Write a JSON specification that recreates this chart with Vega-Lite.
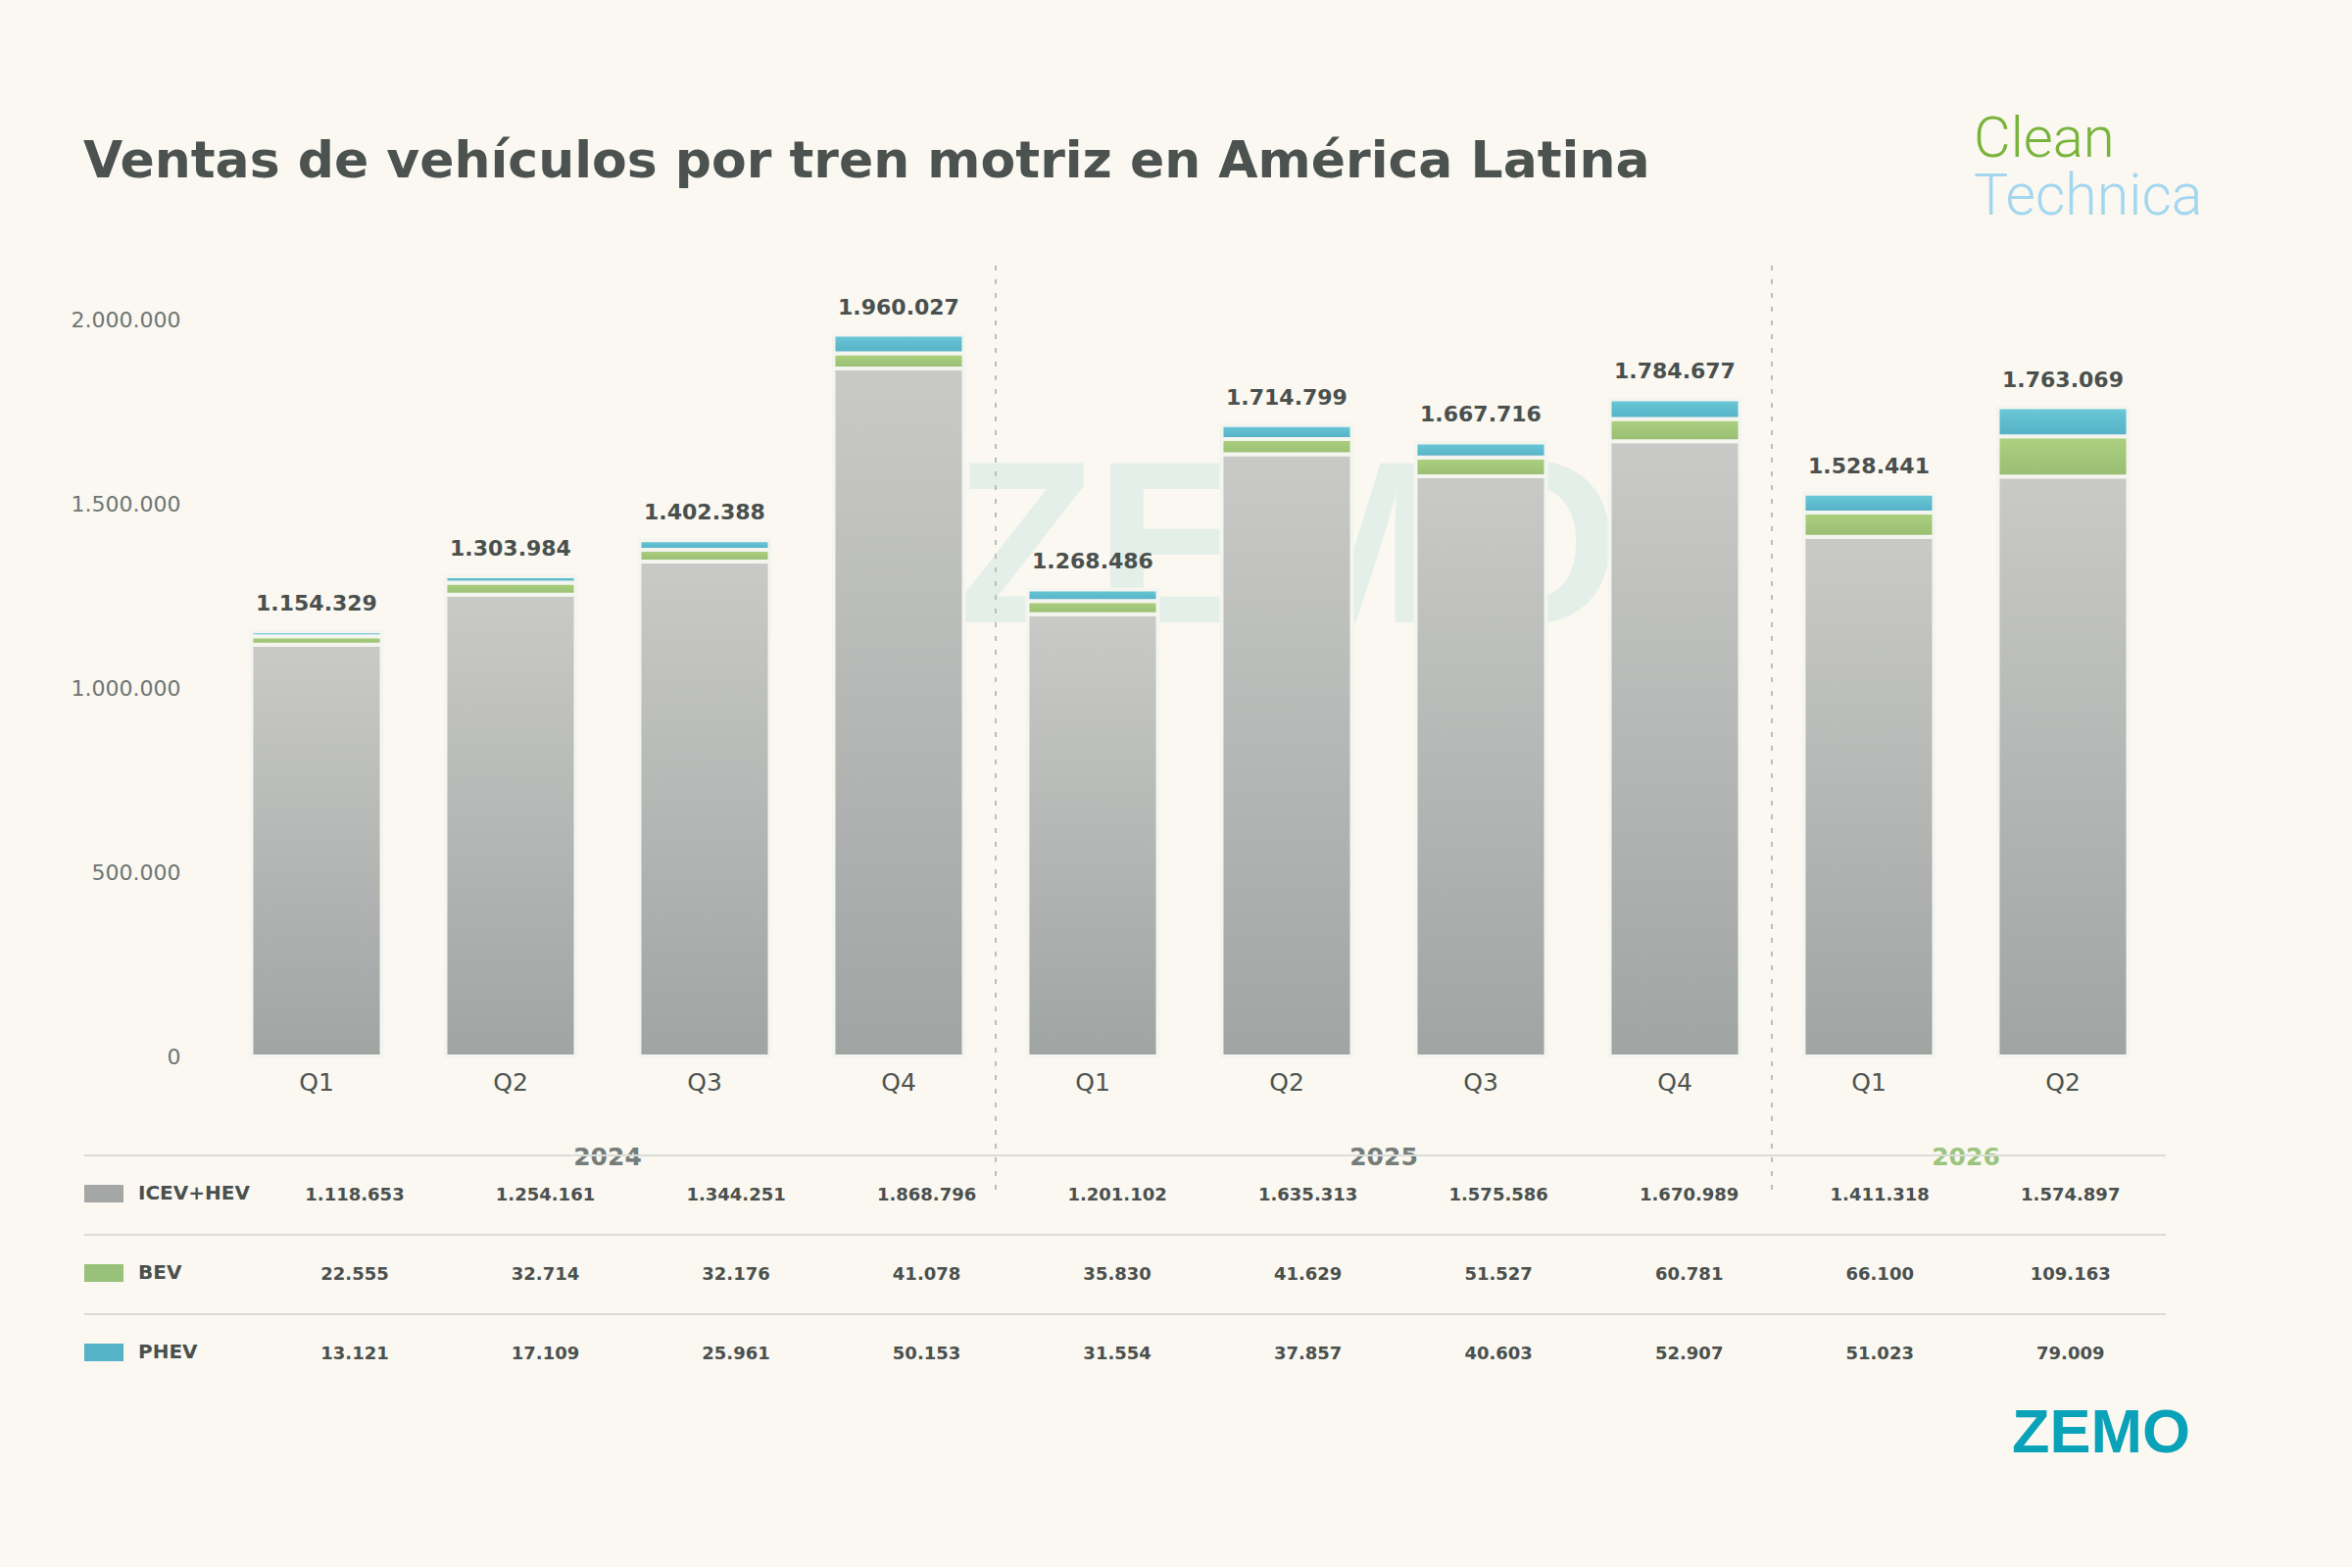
{
  "$schema": "https://vega.github.io/schema/vega-lite/v6.json",
  "background": "#faf8f1",
  "padding": {"left": 72, "top": 114, "right": 165, "bottom": 104},
  "title": {
    "text": "Clean",
    "subtitle": "Technica",
    "anchor": "start",
    "frame": "bounds",
    "dx": 1942,
    "offset": -92,
    "font": "Roboto",
    "fontSize": 58,
    "fontWeight": 300,
    "color": "#79b33a",
    "subtitleFont": "Roboto",
    "subtitleFontSize": 59,
    "subtitleFontWeight": 300,
    "subtitleColor": "#a3d6ef",
    "subtitlePadding": 0
  },
  "datasets": {
    "sales": [
      {"period": "2024-Q1", "type": "ICEV+HEV", "value": 1118653},
      {"period": "2024-Q1", "type": "BEV", "value": 22555},
      {"period": "2024-Q1", "type": "PHEV", "value": 13121},
      {"period": "2024-Q2", "type": "ICEV+HEV", "value": 1254161},
      {"period": "2024-Q2", "type": "BEV", "value": 32714},
      {"period": "2024-Q2", "type": "PHEV", "value": 17109},
      {"period": "2024-Q3", "type": "ICEV+HEV", "value": 1344251},
      {"period": "2024-Q3", "type": "BEV", "value": 32176},
      {"period": "2024-Q3", "type": "PHEV", "value": 25961},
      {"period": "2024-Q4", "type": "ICEV+HEV", "value": 1868796},
      {"period": "2024-Q4", "type": "BEV", "value": 41078},
      {"period": "2024-Q4", "type": "PHEV", "value": 50153},
      {"period": "2025-Q1", "type": "ICEV+HEV", "value": 1201102},
      {"period": "2025-Q1", "type": "BEV", "value": 35830},
      {"period": "2025-Q1", "type": "PHEV", "value": 31554},
      {"period": "2025-Q2", "type": "ICEV+HEV", "value": 1635313},
      {"period": "2025-Q2", "type": "BEV", "value": 41629},
      {"period": "2025-Q2", "type": "PHEV", "value": 37857},
      {"period": "2025-Q3", "type": "ICEV+HEV", "value": 1575586},
      {"period": "2025-Q3", "type": "BEV", "value": 51527},
      {"period": "2025-Q3", "type": "PHEV", "value": 40603},
      {"period": "2025-Q4", "type": "ICEV+HEV", "value": 1670989},
      {"period": "2025-Q4", "type": "BEV", "value": 60781},
      {"period": "2025-Q4", "type": "PHEV", "value": 52907},
      {"period": "2026-Q1", "type": "ICEV+HEV", "value": 1411318},
      {"period": "2026-Q1", "type": "BEV", "value": 66100},
      {"period": "2026-Q1", "type": "PHEV", "value": 51023},
      {"period": "2026-Q2", "type": "ICEV+HEV", "value": 1574897},
      {"period": "2026-Q2", "type": "BEV", "value": 109163},
      {"period": "2026-Q2", "type": "PHEV", "value": 79009}
    ],
    "seps": [{"period": "2025-Q1"}, {"period": "2026-Q1"}],
    "years": [
      {"year": "2024", "anchor": "2024-Q2"},
      {"year": "2025", "anchor": "2025-Q2"},
      {"year": "2026", "anchor": "2026-Q1"}
    ],
    "watermark": [{"label": "ZEMO"}]
  },
  "bounds": "flush",
  "spacing": 101,
  "resolve": {"scale": {"color": "independent"}, "legend": {"color": "independent"}},
  "vconcat": [
    {
      "width": 2040,
      "height": 807,
      "title": {
        "text": "Ventas de vehículos por tren motriz en América Latina",
        "anchor": "start",
        "frame": "bounds",
        "dx": 13,
        "offset": 37,
        "baseline": "alphabetic",
        "font": "DejaVu Sans",
        "fontSize": 52,
        "fontWeight": "bold",
        "color": "#4b5250"
      },
      "data": {"name": "sales"},
      "transform": [
        {"calculate": "indexof(['ICEV+HEV', 'BEV', 'PHEV'], datum.type)", "as": "rank"},
        {"stack": "value", "groupby": ["period"], "sort": [{"field": "rank", "order": "ascending"}], "as": ["v0", "v1"]}
      ],
      "encoding": {
        "x": {
          "field": "period",
          "type": "nominal",
          "scale": {
            "domain": ["2024-Q1", "2024-Q2", "2024-Q3", "2024-Q4", "2025-Q1", "2025-Q2", "2025-Q3", "2025-Q4", "2026-Q1", "2026-Q2"],
            "paddingInner": 0.328,
            "paddingOuter": 0.3155
          },
          "axis": {
            "title": null,
            "labelExpr": "substring(datum.value, 5)",
            "labelAngle": 0,
            "ticks": false,
            "domain": false,
            "labelFont": "DejaVu Sans",
            "labelFontSize": 25,
            "labelColor": "#4c5351",
            "labelPadding": 14
          }
        }
      },
      "layer": [
        {
          "data": {"name": "watermark"},
          "mark": {
            "type": "text",
            "font": "Liberation Sans",
            "fontWeight": "bold",
            "fontSize": 235,
            "align": "center",
            "baseline": "alphabetic",
            "color": "#cfe7e2",
            "opacity": 0.5
          },
          "encoding": {
            "x": {"datum": "2025-Q2"},
            "y": {"datum": 1179000},
            "text": {"field": "label"}
          }
        },
        {
          "data": {"name": "seps"},
          "mark": {"type": "rule", "strokeDash": [5, 9], "strokeWidth": 2, "color": "#b8c0bc"},
          "encoding": {
            "x": {"field": "period", "type": "nominal", "bandPosition": -0.244},
            "y": {"datum": 2148000},
            "y2": {"datum": -367000}
          }
        },
        {
          "transform": [{"filter": "datum.type === 'ICEV+HEV'"}],
          "mark": {
            "type": "bar",
            "stroke": "#f5f5f0",
            "strokeWidth": 4,
            "fill": {
              "gradient": "linear", "x1": 0, "y1": 0, "x2": 0, "y2": 1,
              "stops": [{"offset": 0, "color": "#c9cac8"}, {"offset": 1, "color": "#a0a4a2"}]
            }
          },
          "encoding": {
            "y": {
              "field": "v1",
              "type": "quantitative",
              "title": null,
              "scale": {"domain": [0, 2148000], "nice": false},
              "axis": {
                "values": [0, 500000, 1000000, 1500000, 2000000],
                "format": ",d",
                "domain": false,
                "ticks": false,
                "labelFont": "DejaVu Sans",
                "labelFontSize": 22,
                "labelColor": "#6f7573",
                "labelPadding": 10,
                "gridColor": "#d9ddd6",
                "gridWidth": 2
              }
            },
            "y2": {"field": "v0"}
          }
        },
        {
          "transform": [{"filter": "datum.type === 'BEV'"}],
          "mark": {
            "type": "bar",
            "stroke": "#f5f5f0",
            "strokeWidth": 4,
            "fill": {
              "gradient": "linear", "x1": 0, "y1": 0, "x2": 0, "y2": 1,
              "stops": [{"offset": 0, "color": "#aed17f"}, {"offset": 1, "color": "#98bd73"}]
            }
          },
          "encoding": {
            "y": {"field": "v1", "type": "quantitative", "title": null},
            "y2": {"field": "v0"}
          }
        },
        {
          "transform": [{"filter": "datum.type === 'PHEV'"}],
          "mark": {
            "type": "bar",
            "stroke": "#f5f5f0",
            "strokeWidth": 4,
            "fill": {
              "gradient": "linear", "x1": 0, "y1": 0, "x2": 0, "y2": 1,
              "stops": [{"offset": 0, "color": "#6bc9d8"}, {"offset": 1, "color": "#54b0c5"}]
            }
          },
          "encoding": {
            "y": {"field": "v1", "type": "quantitative", "title": null},
            "y2": {"field": "v0"}
          }
        },
        {
          "transform": [{"aggregate": [{"op": "sum", "field": "value", "as": "total"}], "groupby": ["period"]}],
          "mark": {
            "type": "text",
            "font": "DejaVu Sans",
            "fontSize": 22,
            "fontWeight": "bold",
            "color": "#4a504e",
            "baseline": "alphabetic",
            "dy": -21
          },
          "encoding": {
            "y": {"field": "total", "type": "quantitative", "title": null},
            "text": {"field": "total", "type": "quantitative", "format": ",d"}
          }
        },
        {
          "data": {"name": "years"},
          "mark": {
            "type": "text",
            "font": "DejaVu Sans",
            "fontSize": 25,
            "fontWeight": "bold",
            "baseline": "middle",
            "dy": 103
          },
          "encoding": {
            "x": {"field": "anchor", "type": "nominal", "bandPosition": 1.244},
            "y": {"datum": 0},
            "text": {"field": "year"},
            "color": {"condition": {"test": "datum.year === '2026'", "value": "#9cc47e"}, "value": "#767c7a"}
          }
        }
      ]
    },
    {
      "width": 2016,
      "height": 243,
      "data": {"name": "sales"},
      "title": {
        "text": "ZEMO",
        "orient": "bottom",
        "anchor": "end",
        "frame": "group",
        "dx": 25,
        "offset": 10,
        "font": "Liberation Sans",
        "fontSize": 63,
        "fontWeight": "bold",
        "color": "#0aa2b8"
      },
      "encoding": {
        "x": {
          "field": "period",
          "type": "nominal",
          "scale": {
            "domain": ["2024-Q1", "2024-Q2", "2024-Q3", "2024-Q4", "2025-Q1", "2025-Q2", "2025-Q3", "2025-Q4", "2026-Q1", "2026-Q2"],
            "paddingInner": 0,
            "paddingOuter": 0.1818,
            "align": 1
          },
          "axis": null
        },
        "y": {
          "field": "type",
          "type": "nominal",
          "scale": {"domain": ["ICEV+HEV", "BEV", "PHEV"], "paddingInner": 0, "paddingOuter": 0},
          "axis": null
        }
      },
      "layer": [
        {
          "transform": [{"filter": "datum.period === '2024-Q1'"}],
          "mark": {"type": "rule", "strokeWidth": 2, "color": "#d9ddd6"},
          "encoding": {
            "x": {"datum": "2024-Q1", "bandPosition": -0.919},
            "x2": {"datum": "2026-Q2", "bandPosition": 1},
            "y": {"field": "type", "type": "nominal", "bandPosition": 0}
          }
        },
        {
          "mark": {"type": "point", "filled": true, "opacity": 0},
          "encoding": {
            "color": {
              "field": "type",
              "type": "nominal",
              "scale": {"domain": ["ICEV+HEV", "BEV", "PHEV"], "range": ["#a4a7a6", "#98c17a", "#56b2c6"]},
              "legend": {
                "title": null,
                "orient": "none",
                "legendX": -108,
                "legendY": 19,
                "padding": 0,
                "symbolType": "M-1,-0.45H1V0.45H-1Z",
                "symbolSize": 1600,
                "symbolStrokeWidth": 0,
                "symbolOpacity": 1,
                "labelFont": "DejaVu Sans",
                "labelFontSize": 20,
                "labelFontWeight": "bold",
                "labelColor": "#4a504e",
                "labelOffset": 15,
                "rowPadding": 51
              }
            }
          }
        },
        {
          "mark": {"type": "text", "font": "DejaVu Sans", "fontSize": 18, "fontWeight": "bold", "color": "#4a504e"},
          "encoding": {
            "text": {"field": "value", "type": "quantitative", "format": ",d"}
          }
        }
      ]
    }
  ],
  "config": {
    "view": {"stroke": null},
    "font": "DejaVu Sans",
    "locale": {
      "number": {"decimal": ",", "thousands": ".", "grouping": [3], "currency": ["", " €"]}
    }
  }
}
